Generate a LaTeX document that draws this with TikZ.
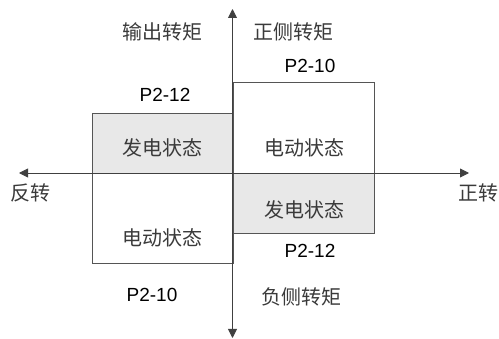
\documentclass[tikz,border=0pt]{standalone}
\usepackage{fontspec}
\setmainfont{Liberation Sans}
\newfontfamily\cjk{Noto Sans CJK SC}
\usetikzlibrary{arrows.meta}
\definecolor{txt}{HTML}{3A3A3A}
\definecolor{boxline}{HTML}{555555}
\definecolor{genfill}{HTML}{E8E8E8}
\begin{document}
\begin{tikzpicture}[x=1pt,y=-1pt,
  cn/.style={text=txt,font=\cjk\fontsize{20}{23}\selectfont,inner sep=0pt,anchor=center},
  pl/.style={text=black,font=\fontsize{19}{22}\selectfont,inner sep=0pt,anchor=center},
  quad/.style={draw=boxline,line width=0.9pt,minimum width=141pt,inner sep=0pt,anchor=north west},
  gen/.style={quad,fill=genfill},
  axis/.style={draw=black!75,line width=0.9pt,-{Triangle[length=9pt,width=9pt]}}]
\useasboundingbox (0,0) rectangle (499,339);
% quadrant boxes
\node[gen,minimum height=60pt] (ul) at (92,113) {};
\node[quad,minimum height=91pt] (ur) at (232.5,82) {};
\node[gen,minimum height=60pt] (lr) at (232.5,173) {};
\node[quad,minimum height=90pt] (ll) at (92,173) {};
% axes
\coordinate (o) at (232.5,173);
\coordinate (top) at (232.5,9);
\coordinate (bot) at (232.5,338);
\coordinate (lft) at (19,173);
\coordinate (rgt) at (469,173);
\draw[axis] (o) -- (top);
\draw[axis] (o) -- (bot);
\draw[axis] (o) -- (lft);
\draw[axis] (o) -- (rgt);
% labels
\node[cn] (out) at (162,32) {输出转矩};
\node[cn] (pos) at (293,32) {正侧转矩};
\node[pl] (p210a) at (310,66) {P2-10};
\node[pl] (p212a) at (165,95) {P2-12};
\node[cn] (gen1) at (162,148) {发电状态};
\node[cn] (mot1) at (304,148) {电动状态};
\node[cn] (rev) at (30,193) {反转};
\node[cn] (fwd) at (478,193) {正转};
\node[cn] (gen2) at (304,210) {发电状态};
\node[cn] (mot2) at (162,238) {电动状态};
\node[pl] (p212b) at (310,251) {P2-12};
\node[pl] (p210b) at (152,295) {P2-10};
\node[cn] (neg) at (301,297) {负侧转矩};
\end{tikzpicture}
\end{document}
